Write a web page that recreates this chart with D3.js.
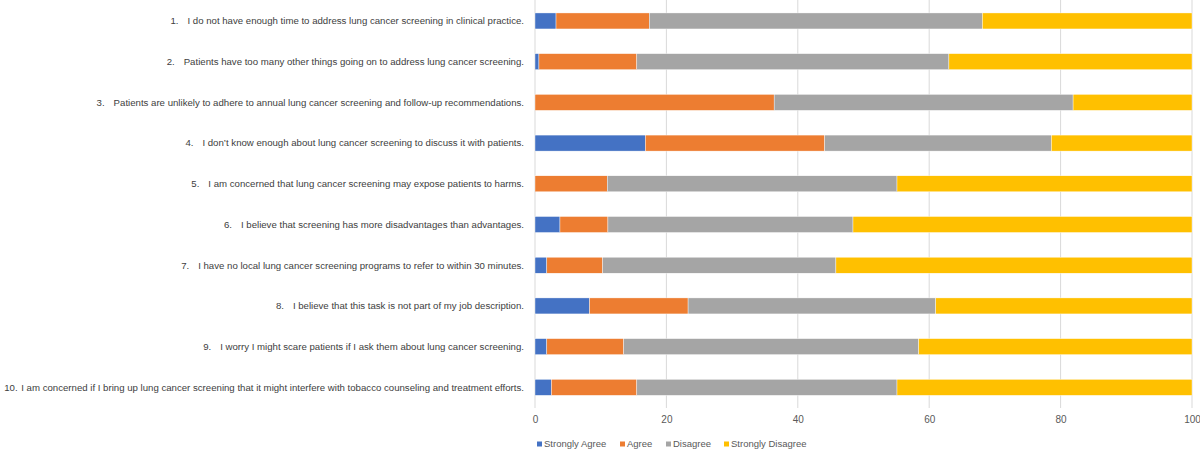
<!DOCTYPE html>
<html>
<head>
<meta charset="utf-8">
<script src="https://cdn.jsdelivr.net/npm/d3@7"></script>
<style>
  html, body { margin: 0; padding: 0; background: #fff; }
  svg { display: block; }
  text { font-family: "Liberation Sans", Arial, sans-serif; }
</style>
</head>
<body>
<svg id="chart" width="1200" height="450"></svg>
<script>
// ---- data ----
const statements = [
  "I do not have enough time to address lung cancer screening in clinical practice.",
  "Patients have too many other things going on to address lung cancer screening.",
  "Patients are unlikely to adhere to annual lung cancer screening and follow-up recommendations.",
  "I don\u2019t know enough about lung cancer screening to discuss it with patients.",
  "I am concerned that lung cancer screening may expose patients to harms.",
  "I believe that screening has more disadvantages than advantages.",
  "I have no local lung cancer screening programs to refer to within 30 minutes.",
  "I believe that this task is not part of my job description.",
  "I worry I might scare patients if I ask them about lung cancer screening.",
  "I am concerned if I bring up lung cancer screening that it might interfere with tobacco counseling and treatment efforts."
];
const seriesNames = ["Strongly Agree", "Agree", "Disagree", "Strongly Disagree"];
const stronglyAgree    = [3.2, 0.6, 0.0, 16.8, 0.0, 3.8, 1.8, 8.3, 1.8, 2.5];
const agree            = [14.2, 14.9, 36.4, 27.3, 11.0, 7.3, 8.5, 15.0, 11.7, 13.0];
const disagree         = [50.7, 47.5, 45.5, 34.5, 44.1, 37.3, 35.5, 37.7, 44.9, 39.6];
const stronglyDisagree = [31.9, 37.0, 18.1, 21.4, 44.9, 51.6, 54.2, 39.0, 41.6, 44.9];
const xTicks = [0, 20, 40, 60, 80, 100];
const colors = ["#4472C4", "#ED7D31", "#A5A5A5", "#FFC000"];

// ---- build table ----
const seriesValues = [stronglyAgree, agree, disagree, stronglyDisagree];
const rows = statements.map((s, i) => {
  const r = { id: i, label: s };
  seriesNames.forEach((n, k) => r[n] = seriesValues[k][i]);
  return r;
});

const svg = d3.select("#chart");
const x = d3.scaleLinear().domain([0, 100]).range([535, 1192]);
const y = d3.scaleBand().domain(rows.map(r => r.id)).range([0.6, 407.7]).paddingInner(0.607).paddingOuter(0.3035);
const color = d3.scaleOrdinal().domain(seriesNames).range(colors);

// gridlines
svg.append("g").selectAll("line").data(xTicks).join("line")
  .attr("x1", d => x(d)).attr("x2", d => x(d))
  .attr("y1", 0).attr("y2", 408)
  .attr("stroke", "#D9D9D9").attr("stroke-width", 1);

// bars
const stack = d3.stack().keys(seriesNames);
const stacked = stack(rows);
svg.append("g").selectAll("g").data(stacked).join("g")
  .attr("fill", d => color(d.key))
  .selectAll("rect").data(d => d).join("rect")
  .attr("x", d => x(d[0]))
  .attr("width", d => Math.max(0, x(d[1]) - x(d[0])))
  .attr("y", d => y(d.data.id))
  .attr("height", y.bandwidth())
  .attr("stroke", "#fff").attr("stroke-width", 0.4);

// x axis tick labels
const xAxis = d3.axisBottom(x).tickValues(xTicks).tickSize(0).tickPadding(0);
const gx = svg.append("g").attr("transform", "translate(0,416)").call(xAxis);
gx.select(".domain").remove();
gx.selectAll("text").attr("fill", "#595959").attr("font-size", "10px").attr("dy", "0.71em");

// category labels
const labelG = svg.append("g");
rows.forEach((r, i) => {
  const cy = y(r.id) + y.bandwidth() / 2;
  const t = labelG.append("text")
    .attr("x", 524).attr("y", cy).attr("dy", "0.35em")
    .attr("text-anchor", "end")
    .attr("font-size", "9.65px").attr("fill", "#404040")
    .text(r.label);
  const bb = t.node().getBBox();
  labelG.append("text")
    .attr("x", bb.x - 17).attr("y", cy).attr("dy", "0.35em")
    .attr("font-size", "9.65px").attr("fill", "#404040")
    .text((i + 1) + ".");
});

// legend
const legendX = [537, 620, 666, 724];
const lg = svg.append("g");
seriesNames.forEach((n, k) => {
  const g = lg.append("g").attr("transform", `translate(${legendX[k]},444)`);
  g.append("rect").attr("x", 0).attr("y", -2.5).attr("width", 5).attr("height", 5).attr("fill", color(n));
  g.append("text").attr("x", 7).attr("y", 0).attr("dy", "0.35em")
    .attr("font-size", "9.5px").attr("fill", "#595959").text(n);
});
</script>
</body>
</html>
